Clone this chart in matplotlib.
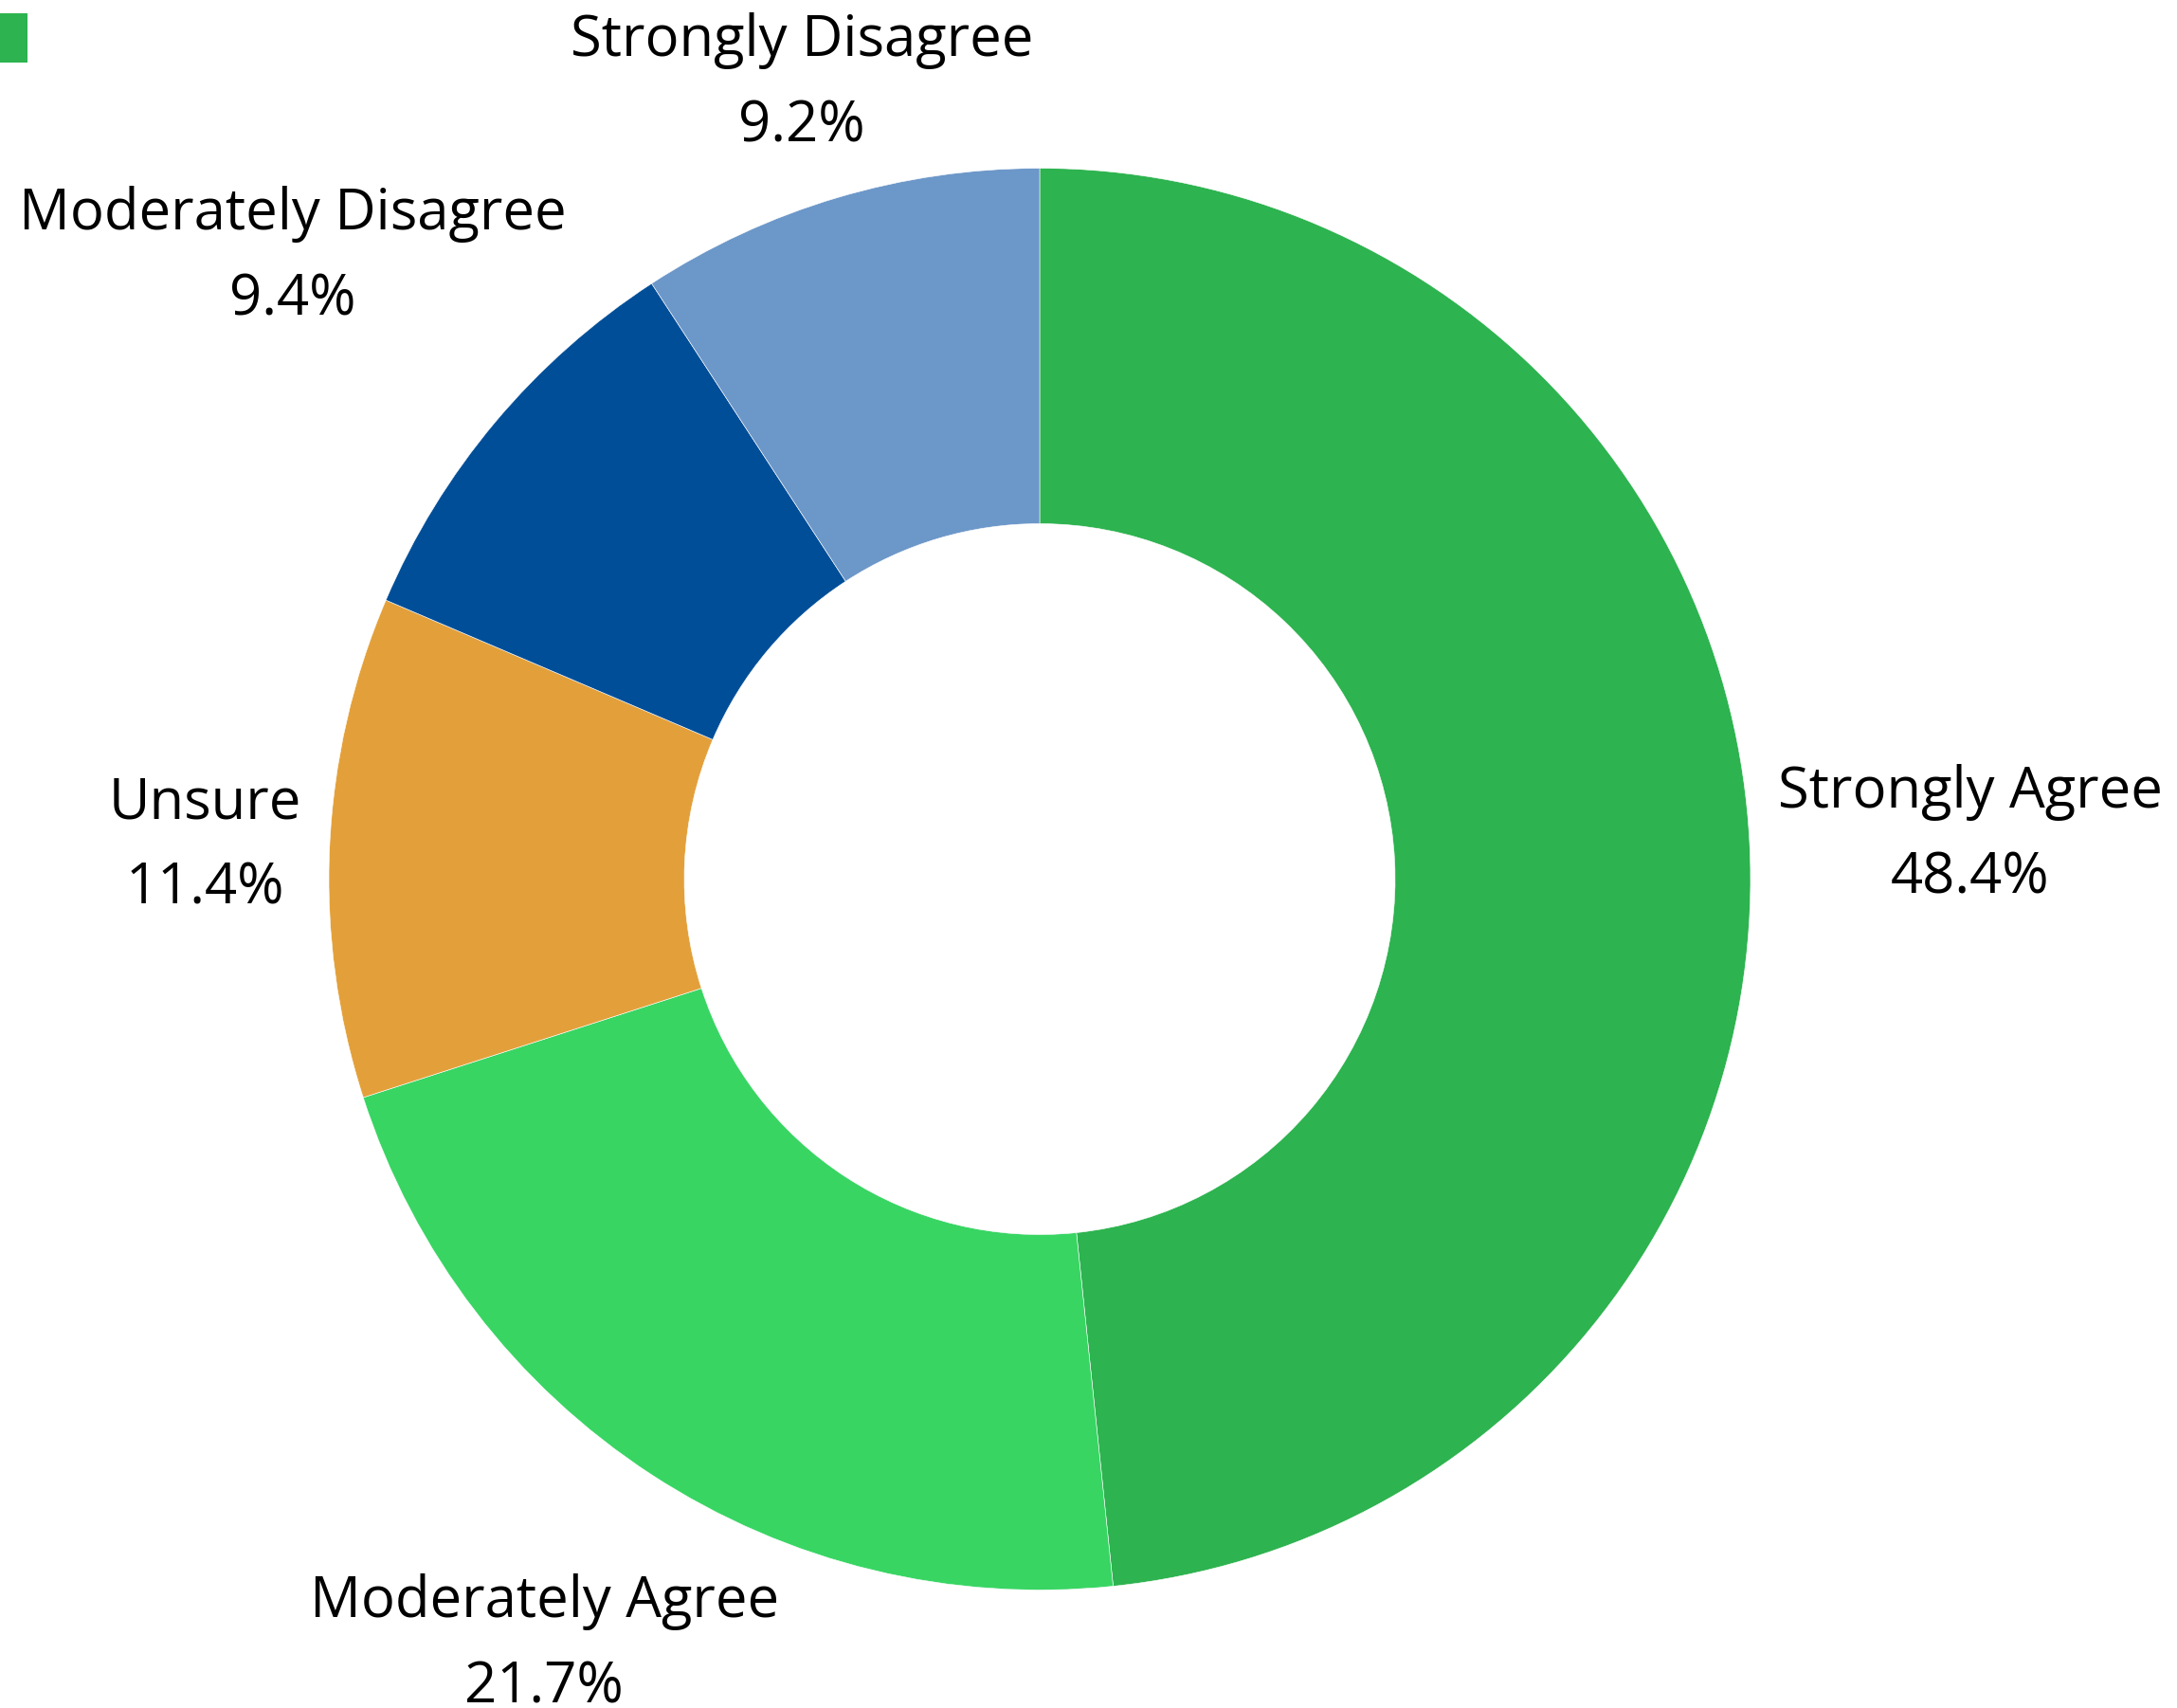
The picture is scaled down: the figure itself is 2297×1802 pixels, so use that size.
import numpy as np
import matplotlib
matplotlib.use("Agg")
import matplotlib.pyplot as plt
from matplotlib.patches import Rectangle

plt.rcParams['font.family'] = ['Open Sans', 'DejaVu Sans']

# ---- data ----
categories = ["Strongly Agree", "Moderately Agree", "Unsure",
              "Moderately Disagree", "Strongly Disagree"]
values = [48.4, 21.7, 11.4, 9.4, 9.2]
colors = ["#2DB34F", "#38D563", "#E3A03A", "#004E98", "#6C97C9"]

# ---- layout ----
label_radius = [1.311, 1.277, 1.176, 1.372, 1.174]   # label distance (x outer radius)
W, H, DPI = 2297, 1802, 100
cx, cy, R = 1097, 927.5, 750     # pie centre / outer radius in pixels

fig = plt.figure(figsize=(W / DPI, H / DPI), dpi=DPI)
ax = fig.add_axes([0, 0, 1, 1])

wedges, _ = ax.pie(values, colors=colors, startangle=90, counterclock=False,
                   radius=1.0, normalize=True,
                   wedgeprops=dict(width=0.5, edgecolor='white', linewidth=0.4))

ax.set_xlim(-cx / R, (W - cx) / R)
ax.set_ylim(-(H - cy) / R, cy / R)
ax.set_aspect('equal')
ax.axis('off')

total = sum(values)
for w, name, v, rl in zip(wedges, categories, values, label_radius):
    ang = np.deg2rad((w.theta1 + w.theta2) / 2)
    x, y = rl * np.cos(ang), rl * np.sin(ang) - 5 / R
    ax.text(x, y, f"{name}\n{v / total * 100:.1f}%", ha='center', va='center',
            multialignment='center', fontsize=43, color='black', linespacing=1.66)

# partially visible legend marker (top-left)
fig.patches.append(Rectangle((0, 1 - 66 / H), 29 / W, 52 / H,
                             transform=fig.transFigure, facecolor=colors[0],
                             edgecolor='none'))

fig.savefig("out.png", dpi=DPI, facecolor='white')
